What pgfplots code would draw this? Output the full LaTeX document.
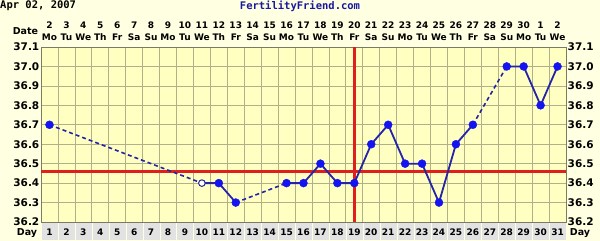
\documentclass[border=0pt]{standalone}
\usepackage{pgfplots}
\pgfplotsset{compat=1.18}
\usepackage{fontspec}
\setmainfont{DejaVu Sans}
\setmonofont{DejaVu Sans Mono}
\definecolor{outerbg}{HTML}{FFFFE2}
\definecolor{plotbg}{HTML}{FFFFC2}
\definecolor{gridc}{HTML}{B0B08A}
\definecolor{cellgray}{HTML}{E2E2E2}
\definecolor{lineblue}{HTML}{2424A8}
\definecolor{markblue}{HTML}{1414F0}
\definecolor{refred}{HTML}{E01E1E}
\definecolor{titleblue}{HTML}{1818A0}
\begin{document}
\begin{tikzpicture}
\path[use as bounding box] (-41pt,-19pt) rectangle (559pt,222pt);
\fill[outerbg] (-41pt,-19pt) rectangle (559pt,222pt);
\pgfmathsetmacro\cw{525/31}
\foreach \i in {1,...,31} {
  \pgfmathsetmacro\xa{(\i-1)*\cw+1}
  \pgfmathsetmacro\xb{\i*\cw}
  \fill[cellgray] (\xa pt,-18pt) rectangle (\xb pt,-1pt);
}
\begin{axis}[
  at={(0,0)}, anchor=south west,
  width=525pt, height=175pt, scale only axis,
  xmin=0.5, xmax=31.5, ymin=36.2, ymax=37.1,
  axis background/.style={fill=plotbg},
  xtick={1.5,2.5,...,30.5}, xticklabels={},
  ytick={36.2,36.3,36.4,36.5,36.6,36.7,36.8,36.9,37.0,37.1},
  major tick length=0pt,
  grid=major,
  grid style={gridc, line width=0.7pt},
  axis line style={gridc!70!black, line width=0.9pt},
  yticklabel style={font=\bfseries\fontsize{10.5}{12}\selectfont, text=black, inner xsep=1.5pt, inner ysep=0pt},
  /pgf/number format/fixed,
  /pgf/number format/fixed zerofill,
  /pgf/number format/precision=1,
  /pgf/number format/assume math mode=true,
]
\addplot[refred, line width=2.6pt] coordinates {(0.5,36.46) (31.5,36.46)};
\addplot[refred, line width=2.6pt] coordinates {(19,36.2) (19,37.1)};
% dashed gaps
\addplot[lineblue, line width=1.6pt, dash pattern=on 4pt off 3pt] coordinates {(1,36.7) (10,36.4)};
\addplot[lineblue, line width=1.6pt, dash pattern=on 4pt off 3pt] coordinates {(12,36.3) (15,36.4)};
\addplot[lineblue, line width=1.6pt, dash pattern=on 4pt off 3pt] coordinates {(26,36.7) (28,37.0)};
% solid
\addplot[lineblue, line width=1.8pt] coordinates {(10,36.4) (11,36.4) (12,36.3)};
\addplot[lineblue, line width=1.8pt] coordinates {(15,36.4) (16,36.4) (17,36.5) (18,36.4) (19,36.4) (20,36.6) (21,36.7) (22,36.5) (23,36.5) (24,36.3) (25,36.6) (26,36.7)};
\addplot[lineblue, line width=1.8pt] coordinates {(28,37.0) (29,37.0) (30,36.8) (31,37.0)};
% markers
\addplot[only marks, mark=*, mark size=4pt, mark options={fill=markblue, draw=markblue}] coordinates {
(1,36.7) (11,36.4) (12,36.3) (15,36.4) (16,36.4) (17,36.5) (18,36.4) (19,36.4) (20,36.6) (21,36.7) (22,36.5) (23,36.5) (24,36.3) (25,36.6) (26,36.7) (28,37.0) (29,37.0) (30,36.8) (31,37.0)};
\addplot[only marks, mark=*, mark size=3.3pt, mark options={fill=white, draw=lineblue, line width=1pt}] coordinates {(10,36.4)};
\end{axis}
\begin{axis}[
  at={(0,0)}, anchor=south west,
  width=525pt, height=175pt, scale only axis,
  xmin=0.5, xmax=31.5, ymin=36.2, ymax=37.1,
  hide x axis, axis y line*=right, y axis line style={draw=none},
  ytick={36.2,36.3,36.4,36.5,36.6,36.7,36.8,36.9,37.0,37.1},
  major tick length=0pt,
  yticklabel style={font=\bfseries\fontsize{10.5}{12}\selectfont, text=black, inner xsep=1.5pt, inner ysep=0pt},
  /pgf/number format/fixed,
  /pgf/number format/fixed zerofill,
  /pgf/number format/precision=1,
  /pgf/number format/assume math mode=true,
]
\addplot[draw=none] coordinates {(1,36.2)};
\end{axis}
\foreach \i/\d/\w in {1/2/Mo,2/3/Tu,3/4/We,4/5/Th,5/6/Fr,6/7/Sa,7/8/Su,8/9/Mo,9/10/Tu,10/11/We,11/12/Th,12/13/Fr,13/14/Sa,14/15/Su,15/16/Mo,16/17/Tu,17/18/We,18/19/Th,19/20/Fr,20/21/Sa,21/22/Su,22/23/Mo,23/24/Tu,24/25/We,25/26/Th,26/27/Fr,27/28/Sa,28/29/Su,29/30/Mo,30/1/Tu,31/2/We} {
  \pgfmathsetmacro\xc{(\i-0.5)*\cw}
  \node[font=\bfseries\fontsize{9}{10}\selectfont, inner sep=0pt] at (\xc pt,197pt) {\d};
  \node[font=\bfseries\fontsize{9}{10}\selectfont, inner sep=0pt] at (\xc pt,185pt) {\w};
  \node[font=\bfseries\fontsize{9}{10}\selectfont, inner sep=0pt] at (\xc pt,-10pt) {\i};
}
\node[font=\bfseries\fontsize{9.5}{10}\selectfont, inner sep=0pt] at (-15.5pt,191pt) {Date};
\node[font=\bfseries\fontsize{9.5}{10}\selectfont, inner sep=0pt] at (-14pt,-11pt) {Day};
\node[font=\bfseries\fontsize{9.5}{10}\selectfont, inner sep=0pt] at (539pt,-11pt) {Day};
\node[font=\ttfamily\bfseries\fontsize{10.5}{12}\selectfont, inner sep=0pt, anchor=west] at (-41pt,216pt) {Apr 02, 2007};
\node[font=\ttfamily\bfseries\fontsize{10.5}{12}\selectfont, inner sep=0pt, text=titleblue] at (259pt,216pt) {FertilityFriend.com};
\end{tikzpicture}
\end{document}
